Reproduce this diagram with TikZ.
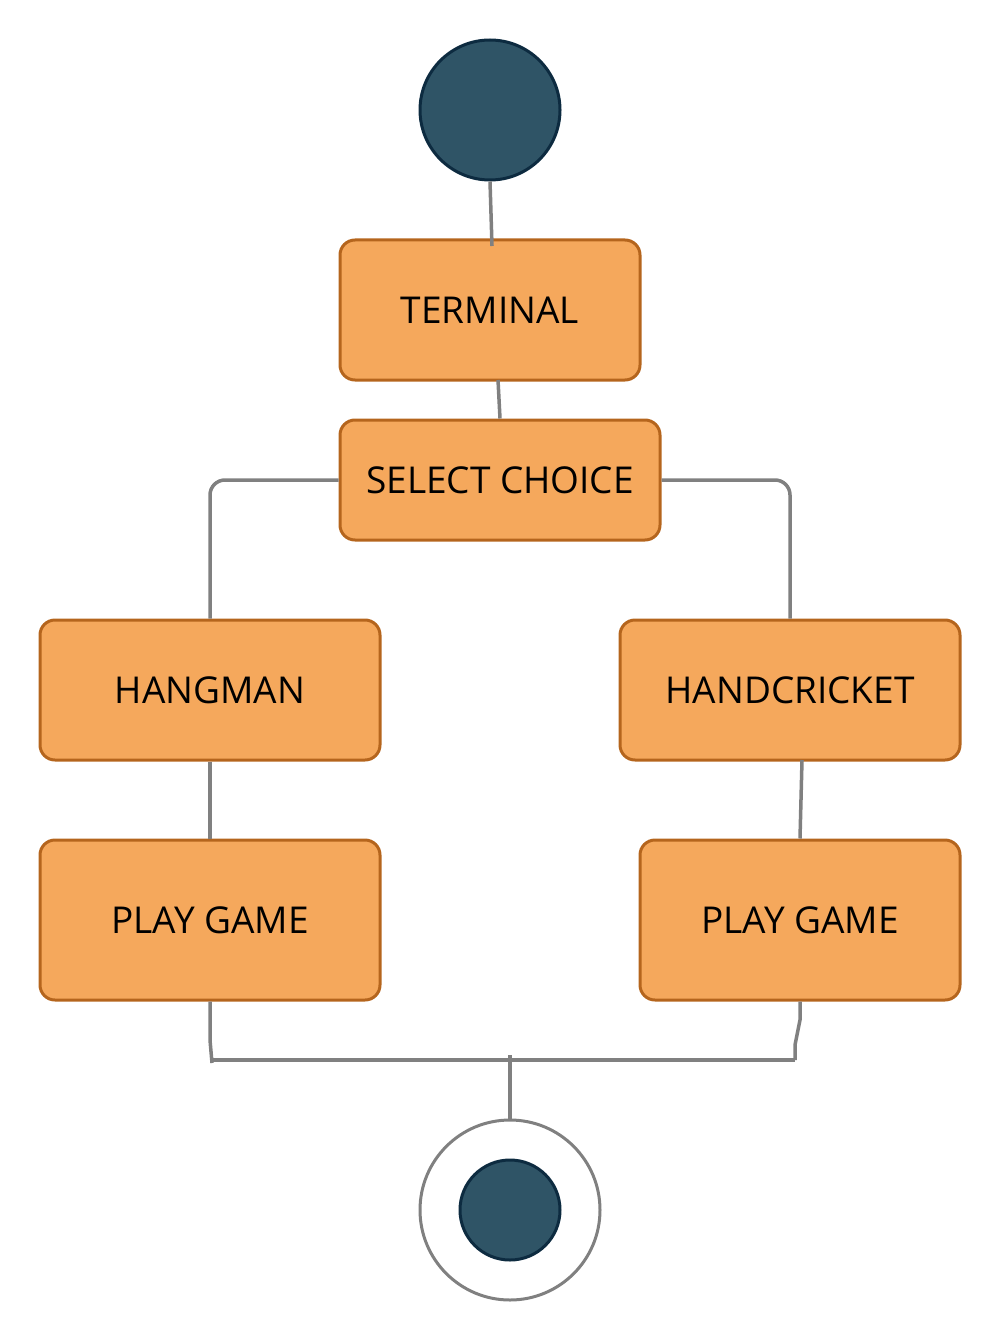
\documentclass[tikz,border=0pt]{standalone}
\usepackage{fontspec}
\setmainfont{Open Sans}
\begin{document}
\begin{tikzpicture}[x=1pt,y=-1pt,
  box/.style={draw=boxline,fill=boxfill,line width=3pt,rounded corners=15pt,inner sep=0pt,font=\fontsize{37}{44}\selectfont,text=black},
  conn/.style={draw=connc,line width=3.5pt},
  dot/.style={circle,draw=dotline,fill=dotfill,line width=3pt,inner sep=0pt}]
\definecolor{boxfill}{HTML}{F5A85C}
\definecolor{boxline}{HTML}{B5651D}
\definecolor{connc}{HTML}{808080}
\definecolor{dotfill}{HTML}{2F5466}
\definecolor{dotline}{HTML}{0D2B40}
\useasboundingbox (0,0) rectangle (1000,1340);
\node[dot,minimum size=140pt] (start) at (490,110) {};
\node[box,minimum width=300pt,minimum height=140pt] (term) at (490,310) {TERMINAL};
\node[box,minimum width=320pt,minimum height=120pt] (sel) at (500,480) {SELECT CHOICE};
\node[box,minimum width=340pt,minimum height=140pt] (hang) at (210,690) {HANGMAN};
\node[box,minimum width=340pt,minimum height=140pt] (hand) at (790,690) {HANDCRICKET};
\node[box,minimum width=340pt,minimum height=160pt] (pg1) at (210,920) {PLAY GAME};
\node[box,minimum width=320pt,minimum height=160pt] (pg2) at (800,920) {PLAY GAME};
\node[circle,draw=connc,fill=white,line width=3pt,minimum size=180pt,inner sep=0pt] (endo) at (510,1210) {};
\node[dot,minimum size=100pt] (endi) at (510,1210) {};
\coordinate (jl) at (212,1063);
\coordinate (jr) at (795,1060);
\coordinate (jc) at (510,1055);
\draw[conn] (start.south) -- (492,246);
\draw[conn] (498,380) -- (sel.north);
\draw[conn,rounded corners=15pt] (sel.west) -- (210,480) -- (hang.north);
\draw[conn,rounded corners=15pt] (sel.east) -- (790,480) -- (hand.north);
\draw[conn] (hang.south) -- (pg1.north);
\draw[conn] (802,760) -- (pg2.north);
\draw[conn] (pg1.south) -- (210,1040) -- (jl);
\draw[conn] (212,1060) -- (jr);
\draw[conn] (pg2.south) -- (800,1020) -- (795,1045) -- (jr);
\draw[conn] (jc) -- (endo.north);
\end{tikzpicture}
\end{document}
